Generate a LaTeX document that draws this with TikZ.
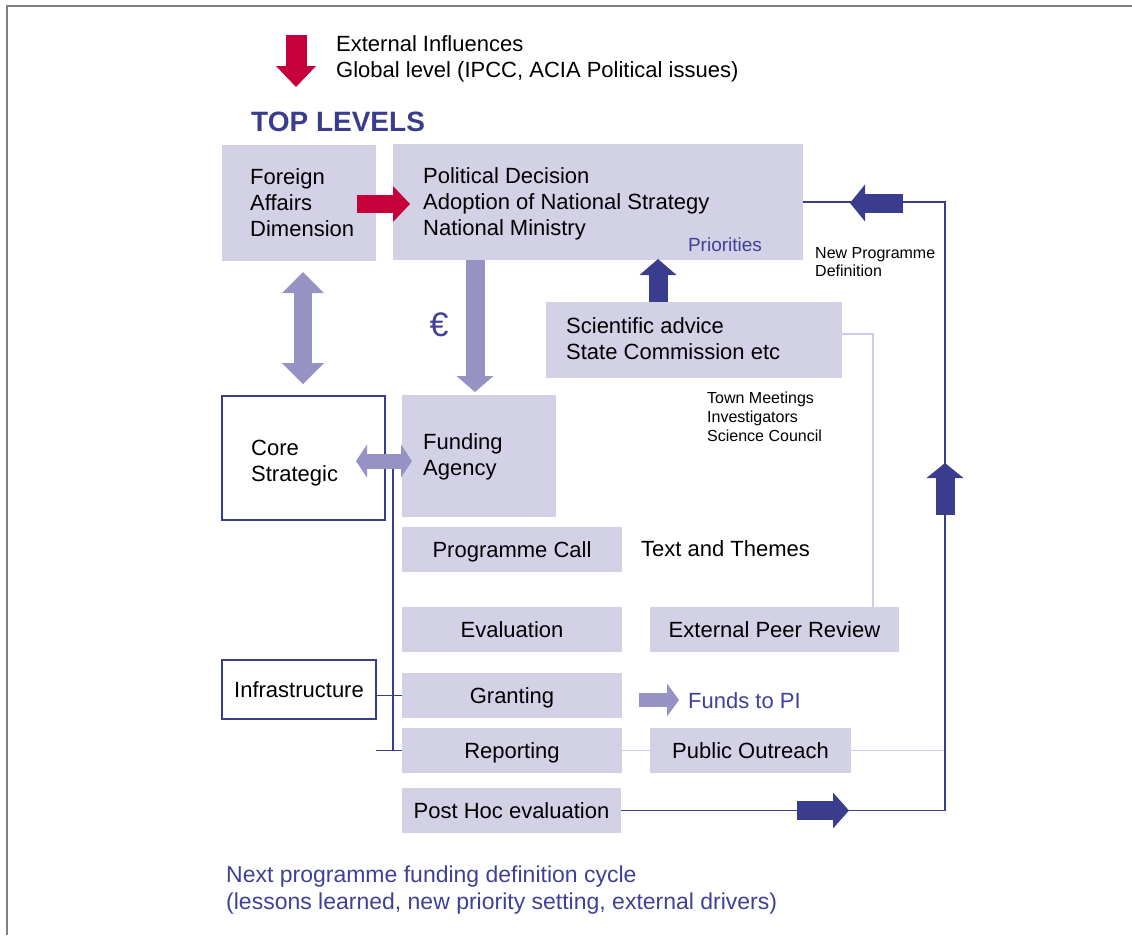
\documentclass[tikz,border=0pt]{standalone}
\usepackage{fontspec}
\setmainfont{Liberation Sans}
\usetikzlibrary{arrows.meta}
\definecolor{boxfill}{RGB}{210,209,230}
\definecolor{midarrow}{RGB}{150,146,196}
\definecolor{navy}{RGB}{58,61,141}
\definecolor{redc}{RGB}{198,0,58}
\definecolor{bluetext}{RGB}{64,64,150}
\definecolor{lightline}{RGB}{205,205,232}
\definecolor{framegray}{RGB}{128,128,128}
\tikzset{
  lbox/.style={fill=boxfill, draw=none, inner sep=0pt, outer sep=0pt, anchor=north west,
    font=\fontsize{22}{26}\selectfont, text height=16pt, text depth=0pt},
  obox/.style={draw=navy, line width=1.5pt, fill=white, inner sep=0pt, outer sep=0pt, anchor=north west,
    font=\fontsize{22}{26}\selectfont, text height=16pt, text depth=0pt},
  mtxt/.style={font=\fontsize{22}{26}\selectfont, inner sep=0pt, align=left, anchor=west},
  stxt/.style={font=\fontsize{22}{26}\selectfont, inner sep=0pt, anchor=west, text height=16pt, text depth=0pt},
  smalltxt/.style={font=\fontsize{16}{18.5}\selectfont, inner sep=0pt, align=left, anchor=west},
  blk/.style n args={3}{line width=#1pt, -{Triangle[width=#2pt,length=#3pt,line width=0pt]}},
  dblk/.style n args={3}{line width=#1pt, {Triangle[width=#2pt,length=#3pt,line width=0pt]}-{Triangle[width=#2pt,length=#3pt,line width=0pt]}},
  navyline/.style={draw=navy, line width=1.5pt},
  lightconn/.style={draw=lightline, line width=1.2pt}
}
\begin{document}
\begin{tikzpicture}[x=1pt,y=-1pt]
\useasboundingbox (0,0) rectangle (1132,935);
% frame
\draw[framegray, line width=2.5pt] (7,935) -- (7,6) -- (1132,6);

% top: external influences
\coordinate (rdtop) at (296,35);
\coordinate (rdtip) at (296,87);
\draw[blk={21}{40}{21}, redc] (rdtop) -- (rdtip);
\node[mtxt] (ext) at (336,59) {External Influences\\Global level (IPCC, ACIA Political issues)};
\node[inner sep=0pt, anchor=west, font=\fontsize{28}{32}\selectfont\bfseries, text=navy, text height=20pt, text depth=0pt] (top) at (251,121) {TOP LEVELS};

% top boxes
\node[lbox, minimum width=154pt, minimum height=116pt] (fa) at (222,145) {};
\node[mtxt] (fat) at (250,203) {Foreign\\Affairs\\Dimension};
\node[lbox, minimum width=410pt, minimum height=116pt] (pd) at (393,144) {};
\node[mtxt] (pdt) at (423,204) {Political Decision\\Adoption of National Strategy\\National Ministry};
\node[inner sep=0pt, font=\fontsize{19}{22}\selectfont, text=bluetext, text height=13.6pt, text depth=0pt] (prio) at (725,245) {Priorities};

% red arrow foreign -> political
\coordinate (raS) at (357,204);
\coordinate (raE) at (410,204);
\draw[blk={18}{36}{17}, redc] (raS) -- (raE);

% vertical double arrow
\coordinate (vdT) at (303,272);
\coordinate (vdB) at (303,384);
\draw[dblk={18}{42}{21}, midarrow] (vdT) -- (vdB);

% euro arrow
\coordinate (euS) at (475,260);
\coordinate (euE) at (475,392);
\draw[blk={19}{37}{16}, midarrow] (euS) -- (euE);
\node[inner sep=0pt, font=\fontsize{34}{38}\selectfont, text=bluetext, text height=24pt, text depth=0pt] (euro) at (439,324) {€};

% scientific advice
\node[lbox, minimum width=296pt, minimum height=76pt] (sa) at (546,302) {};
\node[mtxt] (sat) at (566,339) {Scientific advice\\State Commission etc};
\coordinate (upS) at (658,302);
\coordinate (upE) at (658,259);
\draw[blk={19}{37}{16}, navy] (upS) -- (upE);
\node[smalltxt] (npd) at (815,262) {New Programme\\Definition};
\node[font=\fontsize{16}{19}\selectfont, inner sep=0pt, align=left, anchor=west] (town) at (707,417) {Town Meetings\\Investigators\\Science Council};

% core strategic & funding agency
\node[obox, minimum width=163pt, minimum height=124pt] (cs) at (222,396) {};
\node[mtxt] (cst) at (251,463) {Core\\Strategic};
\node[lbox, minimum width=154pt, minimum height=122pt] (fag) at (402,395) {};
\node[mtxt] (fagt) at (423,457) {Funding\\Agency};

% process boxes
\node[lbox, minimum width=220pt, minimum height=45pt] (pc) at (402,527) {Programme Call};
\node[stxt] (tt) at (641,548) {Text and Themes};
\node[lbox, minimum width=220pt, minimum height=45pt] (ev) at (402,607) {Evaluation};
\node[lbox, minimum width=249pt, minimum height=45pt] (epr) at (650,607) {External Peer Review};
\node[obox, minimum width=154pt, minimum height=59pt] (inf) at (222,660) {Infrastructure};
\node[lbox, minimum width=220pt, minimum height=45pt] (gr) at (402,673) {Granting};
\node[stxt, text=bluetext] (fpi) at (688,700) {Funds to PI};
\node[lbox, minimum width=220pt, minimum height=45pt] (rp) at (402,728) {Reporting};
\node[lbox, minimum width=201pt, minimum height=45pt] (po) at (650,728) {Public Outreach};
\node[lbox, minimum width=219pt, minimum height=45pt] (ph) at (402,788) {Post Hoc evaluation};

% light connectors
\coordinate (sl1) at (873,334);
\coordinate (sl0) at (842,334);
\draw[lightconn] (sl0) -- (sl1) -- (sl1 |- epr.north);
\draw[lightconn] (rp.east) -- (po.west);
\coordinate (poR) at (945,750.5);
\draw[lightconn] (po.east) -- (poR);

% navy bus line on left
\coordinate (busT) at (393,461);
\coordinate (busB) at (393,750.5);
\draw[navyline] (busT) -- (busB);
\draw[navyline] (inf.east |- gr.west) -- (gr.west);
\coordinate (rpL) at (376,750.5);
\draw[navyline] (rpL) -- (rp.west);

% double horizontal arrow core <-> funding
\coordinate (hdL) at (356,461);
\coordinate (hdR) at (412,461);
\draw[dblk={15}{33}{11}, midarrow] (hdL) -- (hdR);

% funds arrow
\coordinate (fS) at (639,700);
\coordinate (fE) at (679,700);
\draw[blk={14}{33}{12}, midarrow] (fS) -- (fE);

% navy feedback loop
\coordinate (loopBR) at (945,810.5);
\coordinate (loopTR) at (945,202);
\draw[navyline] (ph.east) -- (loopBR) -- (loopTR) -- (pd.east);
\coordinate (a1S) at (797,810.5);
\coordinate (a1E) at (849,810.5);
\draw[blk={19}{36}{16}, navy] (a1S) -- (a1E);
\coordinate (a2S) at (945,515);
\coordinate (a2E) at (945,463);
\draw[blk={19}{37}{15}, navy] (a2S) -- (a2E);
\coordinate (a3S) at (903,203);
\coordinate (a3E) at (850,203);
\draw[blk={19}{37}{15}, navy] (a3S) -- (a3E);

% bottom text
\node[font=\fontsize{23}{27}\selectfont, inner sep=0pt, align=left, anchor=west, text=bluetext] (cycle) at (226,890) {Next programme funding definition cycle\\(lessons learned, new priority setting, external drivers)};
\end{tikzpicture}
\end{document}
